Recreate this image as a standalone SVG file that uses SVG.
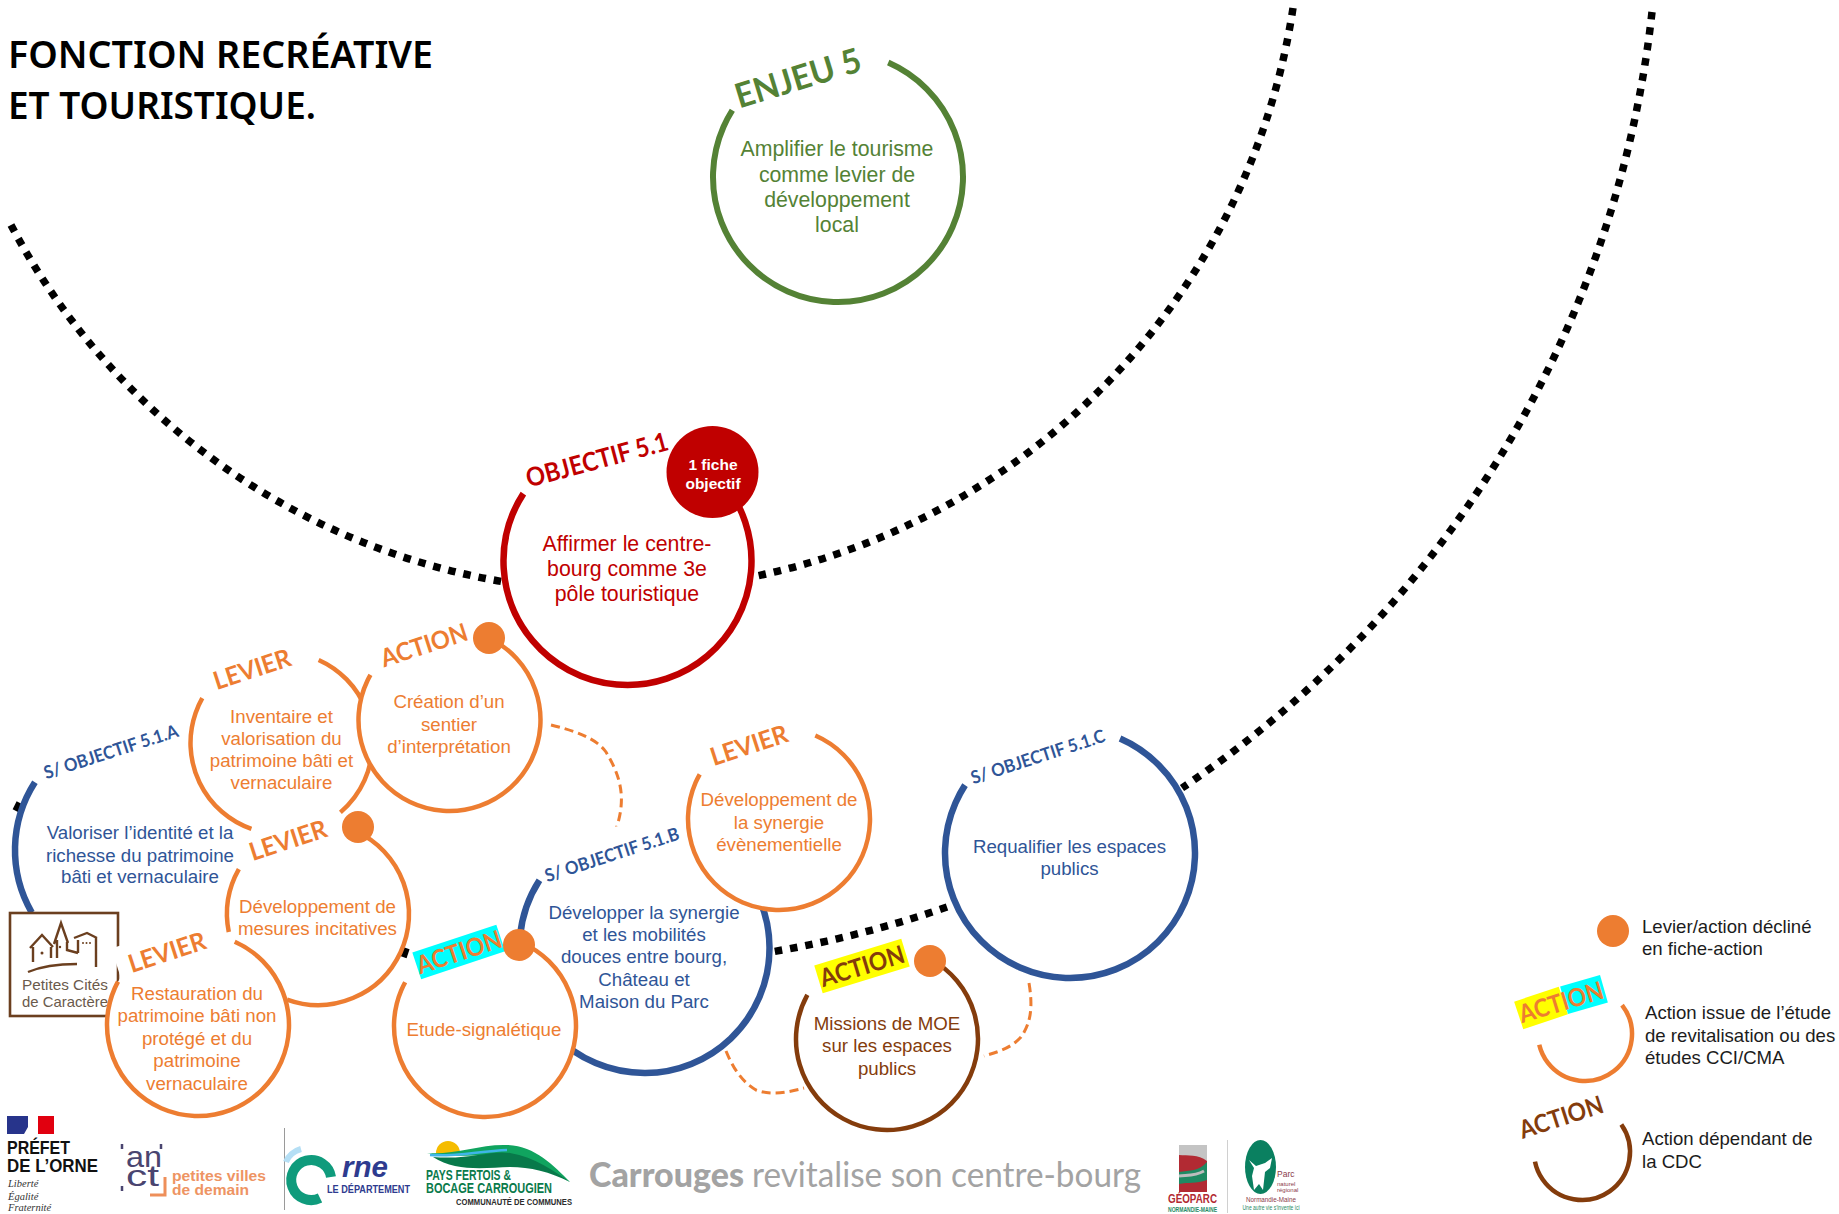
<svg xmlns="http://www.w3.org/2000/svg" width="1839" height="1214" viewBox="0 0 1839 1214">
<style>
text{font-family:"Liberation Sans",Arial,sans-serif}
.t{font-size:18.7px;text-anchor:middle}
.big{font-size:21.3px;text-anchor:middle}
.leg{font-size:18.6px;fill:#1c1c1c}
.lab{font-family:Lato,"Noto Sans",sans-serif;font-weight:700;text-anchor:middle}
.or{fill:#ED7D31}.bl{fill:#2F5597}.br{fill:#843C0C}.rd{fill:#C00000}.gr{fill:#548235}
.w{fill:#fff;stroke:none}
.a{fill:none;stroke-linecap:butt}
.so{stroke:#ED7D31;stroke-width:4.5}
.sb{stroke:#2F5597;stroke-width:6.5}
.sbr{stroke:#843C0C;stroke-width:4.5}
.sr{stroke:#C00000;stroke-width:6.5}
.sg{stroke:#548235;stroke-width:6}
.dot{fill:none;stroke:#000;stroke-width:7.5;stroke-dasharray:7.5 8}
.frag{fill:none;stroke:#000;stroke-width:7.5}
.dash{fill:none;stroke:#ED7D31;stroke-width:3;stroke-dasharray:9 5}
.pin{fill:#ED7D31}
.title{font-family:"Noto Sans",sans-serif;font-weight:600;font-size:38px;fill:#000}
.car{font-family:Lato,sans-serif;fill:#a3a3a3;font-size:34px}
.pc{font-size:15px;fill:#6a5a4c;text-anchor:middle}
.house{fill:none;stroke:#6B3F1F;stroke-width:2.4}
.marianne{font-family:"Liberation Serif",serif;font-size:10.5px;font-style:italic;fill:#333}
</style>

<g id="title">
<text class="title" x="8" y="68" textLength="425" lengthAdjust="spacingAndGlyphs">FONCTION RECRÉATIVE</text>
<text class="title" x="8" y="119" textLength="308" lengthAdjust="spacingAndGlyphs">ET TOURISTIQUE.</text>
</g>

<g id="connectors">
<path class="dot" d="M11 225A685 685 0 0 0 505 582"/>
<path class="dot" d="M1293 8A685 685 0 0 1 752 577"/>
<path class="dot" d="M1652 12A1075 1075 0 0 1 1182 788"/>
<path class="dot" d="M947 907A1075 1075 0 0 1 771 952"/>
<path class="frag" d="M20 803L16 811"/>
<path class="frag" d="M406 948L403 957"/>
<path class="dash" d="M551 725C575 731 596 738 606 752C618 772 628 795 616 829"/>
<path class="dash" d="M726 1051C733 1068 742 1082 756 1090C772 1096 790 1092 804 1088"/>
<path class="dash" d="M1029 983C1033 1007 1031 1023 1021 1037C1010 1049 997 1052 984 1056"/>
</g>

<g id="enjeu">
<circle class="w" cx="838" cy="177" r="125"/>
<circle class="a sg" cx="838" cy="177" r="125" pathLength="360" stroke-dasharray="278.6 360" transform="rotate(-66.3 838 177)"/>
<text class="lab gr" font-size="34" transform="translate(798 78) rotate(-17)" y="12" textLength="130" lengthAdjust="spacingAndGlyphs">ENJEU 5</text>
<text class="big gr" x="837" y="156">Amplifier le tourisme</text>
<text class="big gr" x="837" y="182">comme levier de</text>
<text class="big gr" x="837" y="207">développement</text>
<text class="big gr" x="837" y="232">local</text>
</g>

<g id="objectif">
<circle class="w" cx="627.5" cy="561" r="124"/>
<circle class="a sr" cx="627.5" cy="561" r="124" pathLength="360" stroke-dasharray="252.9 360" transform="rotate(-40 627.5 561)"/>
<circle cx="712.5" cy="472" r="46" fill="#C00000"/>
<text class="lab rd" font-size="26" transform="translate(597 460) rotate(-15)" y="9" textLength="146" lengthAdjust="spacingAndGlyphs">OBJECTIF 5.1</text>
<text x="713" y="470" fill="#fff" font-size="15.5" font-weight="700" text-anchor="middle">1 fiche</text>
<text x="713" y="489" fill="#fff" font-size="15.5" font-weight="700" text-anchor="middle">objectif</text>
<text class="big rd" x="627" y="551">Affirmer le centre-</text>
<text class="big rd" x="627" y="576">bourg comme 3e</text>
<text class="big rd" x="627" y="601">pôle touristique</text>
</g>

<g id="sobj-a">
<circle class="w" cx="140" cy="850" r="125"/>
<circle class="a sb" cx="140" cy="850" r="125" pathLength="360" stroke-dasharray="62.8 360" transform="rotate(150 140 850)"/>
<text class="lab bl" font-size="18" transform="translate(111 752) rotate(-18)" y="6" textLength="140" lengthAdjust="spacingAndGlyphs">S/ OBJECTIF 5.1.A</text>
<text class="t bl" x="140" y="839">Valoriser l’identité et la</text>
<text class="t bl" x="140" y="862">richesse du patrimoine</text>
<text class="t bl" x="140" y="883">bâti et vernaculaire</text>
</g>

<g id="levier-inventaire">
<circle class="w" cx="281.5" cy="743" r="91"/>
<circle class="a so" cx="281.5" cy="743" r="91" pathLength="360" stroke-dasharray="115.6 360" transform="rotate(-65.9 281.5 743)"/>
<circle class="a so" cx="281.5" cy="743" r="91" pathLength="360" stroke-dasharray="100.2 360" transform="rotate(109.3 281.5 743)"/>
<text class="lab or" font-size="25" transform="translate(252 669) rotate(-18)" y="9" textLength="80" lengthAdjust="spacingAndGlyphs">LEVIER</text>
<text class="t or" x="281.5" y="723">Inventaire et</text>
<text class="t or" x="281.5" y="745">valorisation du</text>
<text class="t or" x="281.5" y="767">patrimoine bâti et</text>
<text class="t or" x="281.5" y="789">vernaculaire</text>
</g>

<g id="action-creation">
<circle class="w" cx="449.5" cy="720" r="91"/>
<circle class="a so" cx="449.5" cy="720" r="91" pathLength="360" stroke-dasharray="274.1 360" transform="rotate(-64.3 449.5 720)"/>
<circle class="pin" cx="489" cy="638" r="16"/>
<text class="lab or" font-size="25" transform="translate(424 645) rotate(-18)" y="9" textLength="90" lengthAdjust="spacingAndGlyphs">ACTION</text>
<text class="t or" x="449" y="708">Création d’un</text>
<text class="t or" x="449" y="731">sentier</text>
<text class="t or" x="449" y="753">d’interprétation</text>
</g>

<g id="levier-mesures">
<circle class="w" cx="318" cy="914" r="91"/>
<circle class="a so" cx="318" cy="914" r="91" pathLength="360" stroke-dasharray="174.8 360" transform="rotate(-65 318 914)"/>
<circle class="a so" cx="318" cy="914" r="91" pathLength="360" stroke-dasharray="41 360" transform="rotate(168.6 318 914)"/>
<circle class="pin" cx="358" cy="827" r="16"/>
<text class="lab or" font-size="25" transform="translate(288 840) rotate(-18)" y="9" textLength="80" lengthAdjust="spacingAndGlyphs">LEVIER</text>
<text class="t or" x="317.5" y="913">Développement de</text>
<text class="t or" x="317.5" y="935">mesures incitatives</text>
</g>

<g id="logo-petites-cites">
<rect x="10" y="913" width="108" height="103" fill="#fff" stroke="#6B3F1F" stroke-width="2.6"/>
<path class="house" d="M30 948L42 935L53 947M33 947V962M51 947V958"/>
<path class="house" d="M54 944L61 923L68 943M57 940V958M67 942V950L78 953M74 938L87 933L97 938M96 938V967M78 940V953"/>
<path class="house" d="M28 972C42 966 60 964 77 964"/>
<g fill="#6B3F1F"><circle cx="42" cy="953" r="1.5"/><circle cx="60" cy="947" r="1.2"/><circle cx="83" cy="943" r="1"/><circle cx="86.5" cy="943" r="1"/><circle cx="90" cy="943" r="1"/></g>
<text class="pc" x="65" y="990" textLength="86" lengthAdjust="spacingAndGlyphs">Petites Cités</text>
<text class="pc" x="65" y="1007" textLength="86" lengthAdjust="spacingAndGlyphs">de Caractère</text>
</g>

<g id="levier-restauration">
<circle class="w" cx="198" cy="1025" r="91"/>
<rect class="w" x="-50" y="-20" width="100" height="38" transform="translate(165 952) rotate(-18)"/>
<circle class="a so" cx="198" cy="1025" r="91" pathLength="360" stroke-dasharray="274.8 360" transform="rotate(-66.2 198 1025)"/>
<text class="lab or" font-size="25" transform="translate(167 952) rotate(-18)" y="9" textLength="80" lengthAdjust="spacingAndGlyphs">LEVIER</text>
<text class="t or" x="197" y="1000">Restauration du</text>
<text class="t or" x="197" y="1022">patrimoine bâti non</text>
<text class="t or" x="197" y="1045">protégé et du</text>
<text class="t or" x="197" y="1067">patrimoine</text>
<text class="t or" x="197" y="1090">vernaculaire</text>
</g>

<g id="sobj-b">
<circle class="w" cx="644.5" cy="948" r="125"/>
<circle class="a sb" cx="644.5" cy="948" r="125" pathLength="360" stroke-dasharray="234.8 360" transform="rotate(-22 644.5 948)"/>
<text class="lab bl" font-size="18" transform="translate(612 855) rotate(-18)" y="6" textLength="140" lengthAdjust="spacingAndGlyphs">S/ OBJECTIF 5.1.B</text>
<text class="t bl" x="644" y="919">Développer la synergie</text>
<text class="t bl" x="644" y="941">et les mobilités</text>
<text class="t bl" x="644" y="963">douces entre bourg,</text>
<text class="t bl" x="644" y="986">Château et</text>
<text class="t bl" x="644" y="1008">Maison du Parc</text>
</g>

<g id="action-etude">
<circle class="w" cx="485" cy="1026" r="91"/>
<circle class="a so" cx="485" cy="1026" r="91" pathLength="360" stroke-dasharray="275.8 360" transform="rotate(-67 485 1026)"/>
<rect x="-44" y="-14" width="88.5" height="28" fill="#00FFFF" transform="translate(458.5 952) rotate(-18.4)"/>
<circle class="pin" cx="519" cy="945" r="16"/>
<text class="lab or" font-size="25" transform="translate(459 952) rotate(-18.4)" y="9" textLength="88" lengthAdjust="spacingAndGlyphs">ACTION</text>
<text class="t or" x="484" y="1036">Etude-signalétique</text>
</g>

<g id="levier-synergie">
<circle class="w" cx="779" cy="819" r="91"/>
<circle class="a so" cx="779" cy="819" r="91" pathLength="360" stroke-dasharray="276 360" transform="rotate(-66.5 779 819)"/>
<text class="lab or" font-size="25" transform="translate(749 745) rotate(-18)" y="9" textLength="80" lengthAdjust="spacingAndGlyphs">LEVIER</text>
<text class="t or" x="779" y="806">Développement de</text>
<text class="t or" x="779" y="829">la synergie</text>
<text class="t or" x="779" y="851">évènementielle</text>
</g>

<g id="sobj-c">
<circle class="w" cx="1070" cy="853" r="125"/>
<circle class="a sb" cx="1070" cy="853" r="125" pathLength="360" stroke-dasharray="279.3 360" transform="rotate(-66.4 1070 853)"/>
<text class="lab bl" font-size="18" transform="translate(1038 757) rotate(-18)" y="6" textLength="140" lengthAdjust="spacingAndGlyphs">S/ OBJECTIF 5.1.C</text>
<text class="t bl" x="1069.5" y="853">Requalifier les espaces</text>
<text class="t bl" x="1069.5" y="875">publics</text>
</g>

<g id="action-missions">
<circle class="w" cx="887" cy="1039" r="91"/>
<circle class="a sbr" cx="887" cy="1039" r="91" pathLength="360" stroke-dasharray="270.4 360" transform="rotate(-61.4 887 1039)"/>
<rect x="-45.5" y="-14.5" width="91" height="29" fill="#FFFF00" transform="translate(862 966) rotate(-17)"/>
<circle class="pin" cx="930" cy="961" r="16"/>
<text class="lab br" font-size="25" transform="translate(862 966) rotate(-17)" y="9" textLength="87" lengthAdjust="spacingAndGlyphs">ACTION</text>
<text class="t br" x="887" y="1030">Missions de MOE</text>
<text class="t br" x="887" y="1052">sur les espaces</text>
<text class="t br" x="887" y="1075">publics</text>
</g>

<g id="legend">
<circle class="pin" cx="1613" cy="931" r="16"/>
<text class="leg" x="1642" y="933">Levier/action décliné</text>
<text class="leg" x="1642" y="955">en fiche-action</text>
<circle class="a so" cx="1585" cy="1034" r="47" pathLength="360" stroke-dasharray="204.8 360" transform="rotate(-38 1585 1034)"/>
<rect x="-23.5" y="-14.5" width="47" height="29" fill="#FFFF00" transform="translate(1541 1008) rotate(-18.4)"/>
<rect x="-20.75" y="-14.25" width="41.5" height="28.5" fill="#00FFFF" transform="translate(1584 994.5) rotate(-16)"/>
<text class="lab or" font-size="25" transform="translate(1561 1002) rotate(-17)" y="9" textLength="87" lengthAdjust="spacingAndGlyphs">ACTION</text>
<text class="leg" x="1645" y="1019">Action issue de l’étude</text>
<text class="leg" x="1645" y="1042">de revitalisation ou des</text>
<text class="leg" x="1645" y="1064">études CCI/CMA</text>
<circle class="a sbr" cx="1582" cy="1152" r="48" pathLength="360" stroke-dasharray="203.5 360" transform="rotate(-35 1582 1152)"/>
<text class="lab br" font-size="25" transform="translate(1561 1117) rotate(-18)" y="9" textLength="87" lengthAdjust="spacingAndGlyphs">ACTION</text>
<text class="leg" x="1642" y="1145">Action dépendant de</text>
<text class="leg" x="1642" y="1168">la CDC</text>
</g>

<g id="logos">
<g id="logo-prefet">
<rect x="7" y="1116" width="21" height="18" fill="#27348B"/><rect x="38" y="1116" width="16" height="18" fill="#E1000F"/>
<path d="M28 1116H38V1134H24L28 1127L31 1122Z" fill="#fff"/>
<text x="7" y="1154" font-size="17.5" font-weight="700" fill="#111" textLength="63" lengthAdjust="spacingAndGlyphs">PRÉFET</text>
<text x="7" y="1172" font-size="17.5" font-weight="700" fill="#111" textLength="91" lengthAdjust="spacingAndGlyphs">DE L’ORNE</text>
<text class="marianne" x="8" y="1187">Liberté</text><text class="marianne" x="8" y="1200">Égalité</text><text class="marianne" x="8" y="1211">Fraternité</text>
</g>
<g id="logo-anct">
<text x="126" y="1167" font-size="30" fill="#4a4570" textLength="36" lengthAdjust="spacingAndGlyphs">an</text>
<text x="126" y="1186" font-size="30" fill="#4a4570" textLength="33" lengthAdjust="spacingAndGlyphs">ct</text>
<path d="M122 1144v5M161 1144v5M122 1186v5" stroke="#4a4570" stroke-width="2.5" fill="none"/>
<path d="M150 1195H165V1177" stroke="#ee8f5a" stroke-width="3" fill="none"/>
<text x="172" y="1181" font-size="15" font-weight="700" fill="#ee9463" textLength="94" lengthAdjust="spacingAndGlyphs">petites villes</text>
<text x="172" y="1195" font-size="15" font-weight="700" fill="#ee9463" textLength="77" lengthAdjust="spacingAndGlyphs">de demain</text>
</g>
<path d="M284.5 1128V1210" stroke="#9a9a9a" stroke-width="1" fill="none"/>
<g id="logo-orne">
<path d="M331 1177A20 20 0 1 0 320 1198" fill="none" stroke="#0F9B7C" stroke-width="10"/>
<path d="M301 1149C294 1151 288 1156 286 1162" fill="none" stroke="#B5DFF5" stroke-width="6"/>
<text x="342" y="1177" font-size="30" font-weight="700" font-style="italic" fill="#2E3B8F" textLength="46" lengthAdjust="spacingAndGlyphs">rne</text>
<text x="327" y="1193" font-size="10.5" font-weight="700" fill="#2E3B8F" textLength="83" lengthAdjust="spacingAndGlyphs">LE DÉPARTEMENT</text>
</g>
<g id="logo-pays-fertois">
<path d="M436 1153a12 12 0 0 1 24 0Z" fill="#F5BC00"/>
<path d="M427 1153C455 1155 480 1144 507 1145C535 1146 553 1165 570 1182C545 1168 520 1158 495 1156C470 1154 447 1158 427 1153Z" fill="#10A45F"/>
<path d="M433 1157C470 1160 490 1150 510 1153C535 1157 555 1172 570 1182C550 1172 530 1167 510 1167C485 1168 455 1172 433 1157Z" fill="#08794A"/>
<path d="M430 1155C455 1157 480 1151 507 1150" fill="none" stroke="#3FB5E8" stroke-width="2.5"/>
<text x="426" y="1180" font-size="15" font-weight="700" fill="#0A7A4B" textLength="85" lengthAdjust="spacingAndGlyphs">PAYS FERTOIS &amp;</text>
<text x="426" y="1193" font-size="15" font-weight="700" fill="#0A7A4B" textLength="126" lengthAdjust="spacingAndGlyphs">BOCAGE CARROUGIEN</text>
<text x="456" y="1205" font-size="9.5" font-weight="700" fill="#2c2c2c" textLength="116" lengthAdjust="spacingAndGlyphs">COMMUNAUTÉ DE COMMUNES</text>
</g>
<g id="logo-carrouges">
<text class="car" x="589" y="1187" font-weight="900" textLength="155" lengthAdjust="spacingAndGlyphs">Carrouges</text>
<text class="car" x="752" y="1187" textLength="389" lengthAdjust="spacingAndGlyphs">revitalise son centre-bourg</text>
</g>
<g id="logo-geoparc">
<rect x="1179" y="1145" width="28" height="47" fill="#b22a33"/>
<path d="M1179 1145H1207V1161C1198 1154 1188 1156 1179 1155Z" fill="#c4c4c4"/>
<path d="M1179 1172C1190 1170 1198 1172 1207 1162V1180C1196 1184 1188 1182 1179 1184Z" fill="#1f8a63"/>
<path d="M1179 1176C1188 1175 1195 1176 1204 1171" fill="none" stroke="#bdbdbd" stroke-width="3"/>
<text x="1192.5" y="1203" font-size="12" font-weight="700" fill="#b22a33" text-anchor="middle" textLength="49" lengthAdjust="spacingAndGlyphs">GÉOPARC</text>
<text x="1192.5" y="1212" font-size="7" font-weight="700" fill="#1f8a63" text-anchor="middle" textLength="49" lengthAdjust="spacingAndGlyphs">NORMANDIE-MAINE</text>
</g>
<path d="M1227.5 1140V1213" stroke="#d0d0d0" stroke-width="1" fill="none"/>
<g id="logo-parc">
<ellipse cx="1260.5" cy="1167" rx="15.5" ry="27" fill="#0A8060"/>
<path d="M1249 1160L1256 1166L1265 1163L1272 1158L1270 1168L1265 1172L1263 1190L1259 1184L1254 1190L1252 1176L1254 1168Z" fill="#fff"/>
<text x="1277" y="1177" font-size="8.5" fill="#8a3b4a">Parc</text>
<text x="1277" y="1186" font-size="6" fill="#8a3b4a">naturel</text>
<text x="1277" y="1192" font-size="6" fill="#8a3b4a">régional</text>
<text x="1271" y="1202" font-size="8" fill="#8a3b4a" text-anchor="middle" textLength="50" lengthAdjust="spacingAndGlyphs">Normandie-Maine</text>
<text x="1271" y="1210" font-size="7.5" fill="#1f8a63" text-anchor="middle" textLength="57" lengthAdjust="spacingAndGlyphs">Une autre vie s’invente ici</text>
</g>
</g>
</svg>
